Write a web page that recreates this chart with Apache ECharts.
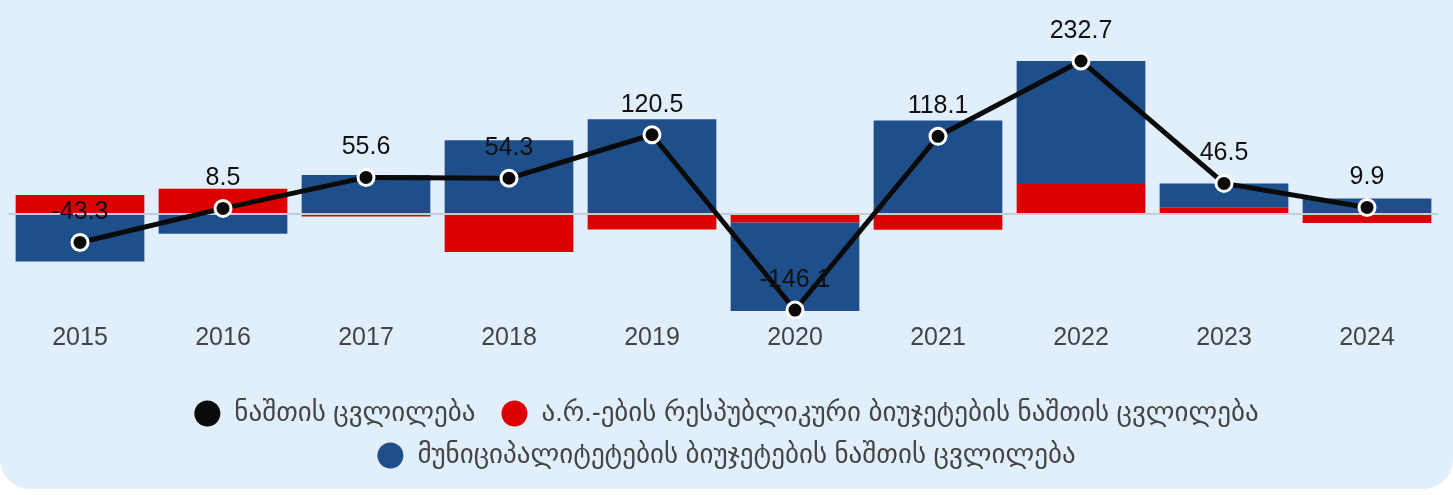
<!DOCTYPE html>
<html>
<head>
<meta charset="utf-8">
<script src="https://cdn.jsdelivr.net/npm/echarts@6/dist/echarts.min.js"></script>
<style>
    html, body { margin: 0; padding: 0; background: #ffffff; overflow: hidden; }
    .card {
        position: absolute; left: 0; top: -30px; width: 1453px; height: 519px;
        background: #e1effd; border-radius: 30px;
    }
    #chart { position: absolute; left: 0; top: 0; width: 1453px; height: 495px; }
</style>
</head>
<body>
<div class="card"></div>
<div id="chart"></div>
<script>
// წლები
const years = ['2015', '2016', '2017', '2018', '2019', '2020', '2021', '2022', '2023', '2024'];
// ა.რ.-ების რესპუბლიკური ბიუჯეტები
const arBudgets = [29.0, 38.5, -3.7, -57.7, -23.5, -13.0, -23.9, 45.6, 9.5, -13.6];
// მუნიციპალიტეტები
const municipal = [-72.3, -30.0, 59.3, 112.0, 144.0, -134.5, 142.0, 187.1, 37.0, 23.5];
// ნაშთის ცვლილება (ჯამი)
const total = [-43.3, 8.5, 55.6, 54.3, 120.5, -146.1, 118.1, 232.7, 46.5, 9.9];

const nameTotal = 'ნაშთის ცვლილება';
const nameAr = 'ა.რ.-ების რესპუბლიკური ბიუჯეტების ნაშთის ცვლილება';
const nameMun = 'მუნიციპალიტეტების ბიუჯეტების ნაშთის ცვლილება';

const font = 'Liberation Sans, DejaVu Sans, Arial, sans-serif';

const myChart = echarts.init(document.getElementById('chart'));

const legendBase = {
    left: 'center',
    icon: 'circle',
    itemWidth: 26,
    itemHeight: 26,
    itemGap: 26,
    padding: 0,
    itemStyle: { borderWidth: 0 },
    textStyle: {
        fontSize: 27,
        lineHeight: 26,
        color: '#444',
        fontFamily: font,
        padding: [0, 0, 0, 9]
    }
};

const option = {
    backgroundColor: 'transparent',
    animation: false,
    legend: [
        Object.assign({}, legendBase, { top: 400, data: [nameTotal, nameAr] }),
        Object.assign({}, legendBase, { top: 442, data: [nameMun] })
    ],
    grid: { left: 8.5, right: 14.5, top: 49.6, bottom: 182.4, containLabel: false },
    xAxis: {
        type: 'category',
        data: years,
        axisLine: { show: false },
        axisTick: { show: false },
        axisLabel: { fontSize: 25, color: '#444', margin: 13, fontFamily: font }
    },
    yAxis: {
        type: 'value',
        min: -150,
        max: 250,
        show: false,
        splitLine: { show: false }
    },
    series: [
        {
            name: nameAr,
            type: 'bar',
            stack: 'total',
            barCategoryGap: '10%',
            itemStyle: { color: '#dd0000' },
            data: arBudgets
        },
        {
            name: nameMun,
            type: 'bar',
            stack: 'total',
            barCategoryGap: '10%',
            itemStyle: { color: '#1e4f8a' },
            data: municipal,
            markLine: {
                silent: true,
                symbol: 'none',
                label: { show: false },
                lineStyle: { color: '#c6ccd4', width: 2, type: 'solid' },
                data: [{ yAxis: 0 }]
            }
        },
        {
            name: nameTotal,
            type: 'line',
            z: 5,
            symbol: 'circle',
            symbolSize: 16,
            itemStyle: { color: '#0a0a0a', borderColor: '#ffffff', borderWidth: 3 },
            lineStyle: { color: '#0a0a0a', width: 5 },
            label: {
                show: true,
                position: 'top',
                distance: 8,
                fontSize: 25,
                color: '#111',
                fontFamily: font
            },
            data: total
        }
    ]
};

myChart.setOption(option);
</script>
</body>
</html>
